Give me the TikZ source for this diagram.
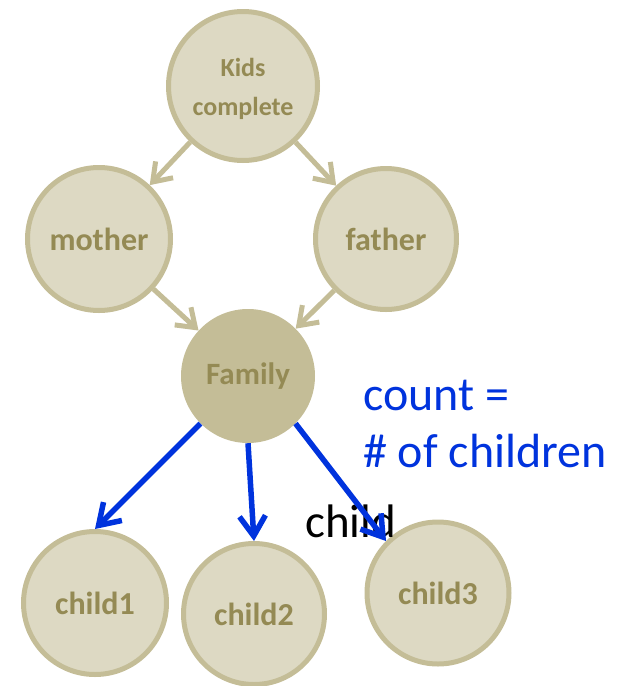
\documentclass[tikz,border=0pt]{standalone}
\usepackage{fontspec}
\setmainfont{Carlito}
\usetikzlibrary{arrows.meta}
\definecolor{tanfill}{HTML}{DDD9C3}
\definecolor{tanline}{HTML}{C4BD97}
\definecolor{olivetext}{HTML}{948A54}
\definecolor{linkblue}{RGB}{0,51,221}
\begin{document}
\begin{tikzpicture}[x=1pt,y=-1pt,
  entity/.style={circle, fill=tanfill, draw=tanline, line width=5pt, inner sep=0pt,
    text=olivetext, font=\bfseries\fontsize{32}{38}\selectfont, align=center},
  hub/.style={circle, fill=tanline, draw=none, inner sep=0pt,
    text=olivetext, font=\bfseries\fontsize{31}{37}\selectfont},
  flow/.style={draw=tanline, line width=5pt, -{Straight Barb[length=17pt,width=24pt]}},
  childlink/.style={draw=linkblue, line width=5.5pt, -{Straight Barb[length=20pt,width=26pt]}},
  note/.style={anchor=base west, inner sep=0pt, text=linkblue, font=\fontsize{48}{57}\selectfont},
  rolelbl/.style={anchor=base west, inner sep=0pt, text=black, font=\fontsize{47}{56}\selectfont}]
\useasboundingbox (0,0) rectangle (619,686);

% entities
\node[entity, minimum size=149pt] (kids) at (243,86) {};
\node[inner sep=0pt, text=olivetext, font=\bfseries\fontsize{26}{39}\selectfont, align=center]
  (kidslbl) at (243,89) {Kids\\complete};
\node[entity, minimum size=143pt] (mother) at (99,239) {mother};
\node[entity, minimum size=141pt] (father) at (386,239) {father};
\node[hub, minimum size=134pt] (family) at (248,376) {Family};
\node[entity, minimum size=143pt] (child1) at (95,603) {child1};
\node[entity, minimum size=141pt] (child2) at (254,614) {child2};
\node[entity, minimum size=142pt] (child3) at (438,593) {child3};

% labels
\node[note] (countA) at (363,410) {count =};
\node[note] (countB) at (363,467) {\# of children};
\node[rolelbl] (role) at (305,537) {child};

% tan connectors
\draw[flow] (kids) -- (mother);
\draw[flow] (kids) -- (father);
\draw[flow] (mother) -- (family);
\draw[flow] (father) -- (family);

% blue child links
\draw[childlink] (family.225) -- (child1.north);
\draw[childlink] (family.south) -- (child2.north);
\draw[childlink] (family.315) -- (child3.135);
\end{tikzpicture}
\end{document}
